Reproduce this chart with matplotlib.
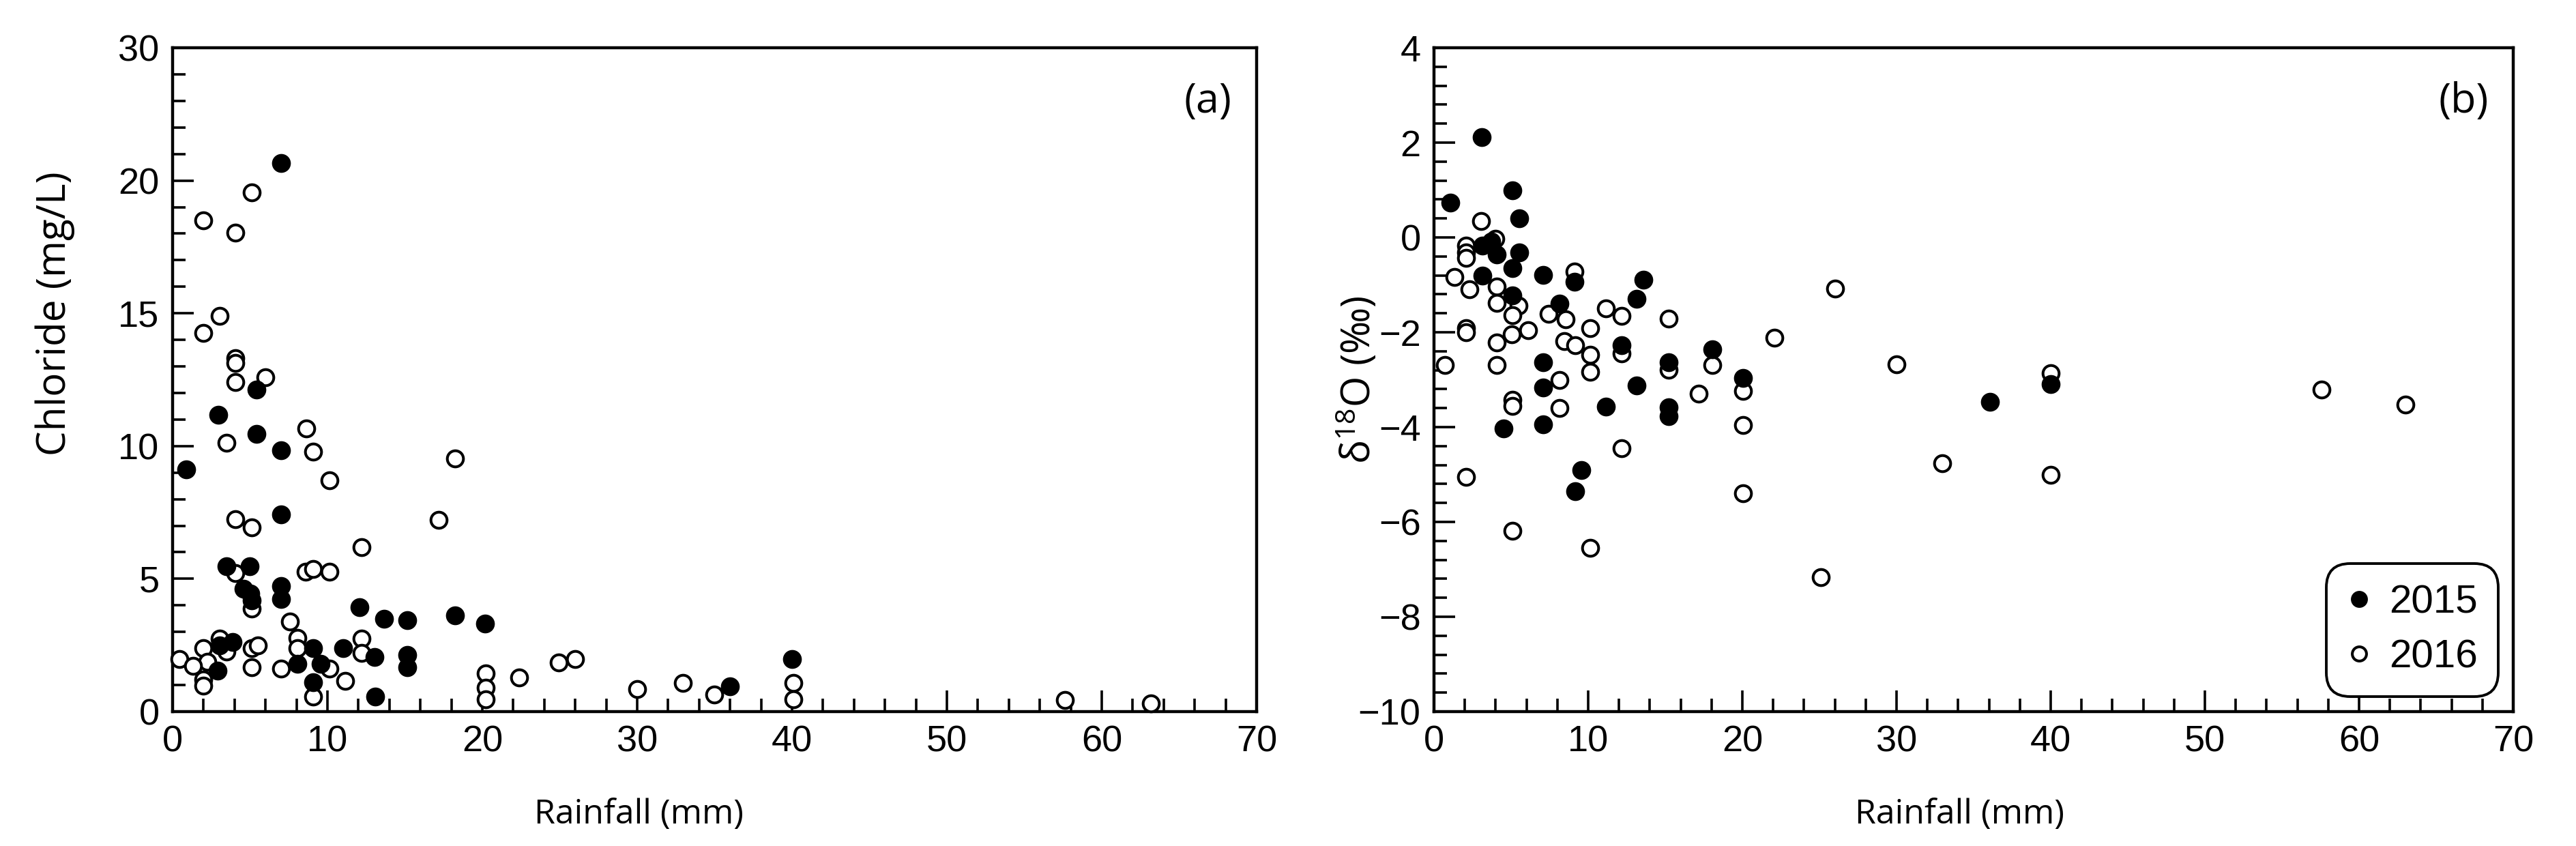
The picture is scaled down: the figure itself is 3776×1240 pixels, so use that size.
import matplotlib
matplotlib.use("Agg")
import matplotlib.pyplot as plt
from matplotlib.ticker import MultipleLocator, FixedLocator
from matplotlib.lines import Line2D

# ---------------- data ----------------
# Panel (a): chloride (mg/L) vs rainfall (mm)
cl2015_rain = [7.0, 5.4, 2.95, 5.4, 7.0, 0.86, 7.0, 3.5, 4.97, 4.57, 5.0, 5.09, 7.0, 7.0,
               12.07, 13.65, 15.14, 18.24, 20.19, 9.08, 11.03, 13.05, 15.14, 15.14, 3.03,
               3.89, 2.91, 8.05, 9.54, 9.08, 13.08, 36.0, 40.0]
cl2015_val = [20.66, 12.14, 11.18, 10.45, 9.85, 9.12, 7.42, 5.47, 5.47, 4.62, 4.44, 4.19, 4.74, 4.23,
              3.93, 3.5, 3.44, 3.63, 3.31, 2.39, 2.39, 2.05, 2.14, 1.67, 2.48,
              2.61, 1.54, 1.79, 1.79, 1.11, 0.56, 0.94, 1.97]
cl2016_rain = [5.09, 2.0, 4.06, 3.03, 2.0, 4.06, 4.06, 4.06, 6.0,
               3.49, 8.63, 9.08, 18.24, 10.14, 17.19, 4.06, 5.09, 12.19, 8.6, 9.08, 10.14,
               4.06, 5.09, 7.57, 8.08, 8.08, 12.19, 12.19, 0.46, 2.0, 3.03, 3.49, 2.26,
               1.32, 2.0, 2.0, 5.09, 5.51, 5.09, 7.0, 10.14, 9.08, 11.16, 20.24, 20.24,
               20.24, 22.38, 24.93, 25.97, 30.0, 32.96, 34.99, 40.08, 40.08, 57.6, 63.15]
cl2016_val = [19.55, 18.5, 18.03, 14.9, 14.25, 13.3, 13.12, 12.42, 12.6,
              10.13, 10.66, 9.79, 9.53, 8.72, 7.22, 7.24, 6.94, 6.18, 5.26, 5.38, 5.26,
              5.21, 3.89, 3.38, 2.78, 2.39, 2.74, 2.22, 1.97, 2.39, 2.74, 2.26, 1.88,
              1.71, 1.2, 0.98, 2.39, 2.48, 1.67, 1.62, 1.62, 0.56, 1.15, 1.45, 0.9,
              0.47, 1.28, 1.84, 1.97, 0.86, 1.07, 0.64, 1.07, 0.47, 0.43, 0.3]

# Panel (b): delta 18O (permil) vs rainfall (mm)
o2015_rain = [1.05, 3.08, 5.11, 5.53, 3.13, 3.72, 4.06, 5.53, 5.08, 3.13, 7.1, 9.1, 13.57,
              5.08, 13.16, 8.12, 12.15, 18.05, 15.2, 7.1, 20.05, 7.1, 13.16, 11.13, 15.2,
              15.2, 4.53, 7.1, 9.56, 9.14, 36.04, 40.0]
o2015_val = [0.74, 2.12, 0.99, 0.40, -0.17, -0.08, -0.36, -0.32, -0.65, -0.8, -0.79, -0.94, -0.89,
             -1.23, -1.30, -1.40, -2.28, -2.36, -2.64, -2.64, -2.97, -3.17, -3.12, -3.57, -3.58,
             -3.77, -4.03, -3.94, -4.91, -5.35, -3.47, -3.1]
o2016_rain = [3.05, 3.98, 2.06, 2.06, 2.06, 1.32, 2.28, 4.06, 4.06, 5.5, 5.08, 7.45, 8.55,
              9.1, 11.13, 12.15, 15.2, 22.08, 26.0, 2.06, 2.06, 5.04, 6.09, 4.06, 8.46,
              9.14, 10.12, 10.12, 10.12, 12.15, 15.2, 18.05, 0.71, 4.06, 8.12, 17.17,
              20.05, 5.08, 5.08, 8.12, 20.05, 12.15, 2.06, 20.05, 5.08, 10.12, 25.1,
              30.0, 32.97, 40.0, 40.0, 57.55, 63.0]
o2016_val = [0.35, -0.03, -0.17, -0.32, -0.43, -0.83, -1.09, -1.04, -1.38, -1.44, -1.64, -1.61, -1.73,
             -0.72, -1.49, -1.66, -1.71, -2.12, -1.08, -1.92, -2.0, -2.04, -1.95, -2.21, -2.19,
             -2.28, -1.92, -2.47, -2.83, -2.45, -2.79, -2.69, -2.69, -2.69, -3.0, -3.29,
             -3.24, -3.43, -3.55, -3.6, -3.96, -4.44, -5.05, -5.39, -6.19, -6.55, -7.17,
             -2.67, -4.76, -2.87, -5.0, -3.21, -3.53]

years = ["2015", "2016"]
x_label = "Rainfall (mm)"
y_label_a = "Chloride (mg/L)"
y_label_b = "δ$^{18}$O (‰)"
panel_tags = ["(a)", "(b)"]
x_ticks = [0, 10, 20, 30, 40, 50, 60, 70]
y_ticks_a = [0, 5, 10, 15, 20, 25]
y_ticklabels_a = ["0", "5", "10", "15", "20", "30"]
y_ticks_b = [-10, -8, -6, -4, -2, 0, 2, 4]

# ---------------- style ----------------
plt.rcParams["font.family"] = ["Liberation Sans", "DejaVu Sans"]
plt.rcParams["mathtext.fontset"] = "custom"
plt.rcParams["mathtext.rm"] = "Open Sans"
plt.rcParams["mathtext.it"] = "Open Sans:italic"
LABEL_FONT = ["Open Sans", "DejaVu Sans"]

W, H = 3776, 1240
fig = plt.figure(figsize=(W / 100, H / 100), dpi=100)
bottom = 1 - 1043 / H
height = (1043 - 70) / H
ax_a = fig.add_axes([253 / W, bottom, (1842 - 253) / W, height])
ax_b = fig.add_axes([2102 / W, bottom, (3684 - 2102) / W, height])

MS = 17
MEW = 2.9
TICK_FS = 39
XLAB_FS = 36
YLAB_FS = 42
TAG_FS = 44
LEG_FS = 42


def style(ax):
    for s in ax.spines.values():
        s.set_linewidth(3.2)
        s.set_color("black")
    ax.tick_params(which="both", direction="in", top=False, right=False,
                   width=2.6, labelsize=TICK_FS, pad=14)
    ax.tick_params(which="major", length=22)
    ax.tick_params(which="minor", length=14)
    ax.set_xlim(0, 70)
    ax.xaxis.set_major_locator(FixedLocator(x_ticks))
    ax.xaxis.set_minor_locator(MultipleLocator(2))


def draw(ax, xo, yo, xf, yf):
    ax.plot(xo, yo, linestyle="none", marker="o", ms=MS, mew=MEW,
            mfc="white", mec="black", zorder=3, clip_on=False)
    ax.plot(xf, yf, linestyle="none", marker="o", ms=MS, mew=MEW,
            mfc="black", mec="black", zorder=4, clip_on=False)


# Panel (a)
style(ax_a)
draw(ax_a, cl2016_rain, cl2016_val, cl2015_rain, cl2015_val)
ax_a.set_ylim(0, 25)
ax_a.yaxis.set_major_locator(FixedLocator(y_ticks_a))
ax_a.set_yticklabels(y_ticklabels_a)
ax_a.yaxis.set_minor_locator(MultipleLocator(1))
ax_a.set_xlabel(x_label, fontsize=XLAB_FS, family=LABEL_FONT)
ax_a.set_ylabel(y_label_a, fontsize=YLAB_FS, family=LABEL_FONT)
ax_a.xaxis.set_label_coords(0.43, -0.13)
ax_a.yaxis.set_label_coords(-0.09, 0.60)
ax_a.text(0.977, 0.919, panel_tags[0], transform=ax_a.transAxes, ha="right",
          va="center", fontsize=TAG_FS, family=LABEL_FONT)

# Panel (b)
style(ax_b)
draw(ax_b, o2016_rain, o2016_val, o2015_rain, o2015_val)
ax_b.set_ylim(-10, 4)
ax_b.yaxis.set_major_locator(FixedLocator(y_ticks_b))
ax_b.yaxis.set_minor_locator(MultipleLocator(0.4))
ax_b.set_xlabel(x_label, fontsize=XLAB_FS, family=LABEL_FONT)
ax_b.set_ylabel(y_label_b, fontsize=YLAB_FS, family=LABEL_FONT)
ax_b.xaxis.set_label_coords(0.487, -0.13)
ax_b.yaxis.set_label_coords(-0.05, 0.50)
ax_b.text(0.977, 0.919, panel_tags[1], transform=ax_b.transAxes, ha="right",
          va="center", fontsize=TAG_FS, family=LABEL_FONT)

handles = [
    Line2D([], [], linestyle="none", marker="o", ms=15, mew=MEW, mfc="black", mec="black"),
    Line2D([], [], linestyle="none", marker="o", ms=15, mew=MEW, mfc="white", mec="black"),
]
leg = ax_b.legend(handles, years, loc="lower right", fontsize=LEG_FS, frameon=True,
                  fancybox=True, handlelength=0.6, handletextpad=0.45,
                  borderpad=0.5, labelspacing=0.45, borderaxespad=0.4)
fr = leg.get_frame()
fr.set_edgecolor("black")
fr.set_linewidth(2.8)
fr.set_alpha(1)
fr.set_boxstyle("round,pad=0.02,rounding_size=0.6")

fig.savefig("out.png", dpi=100, facecolor="white")
